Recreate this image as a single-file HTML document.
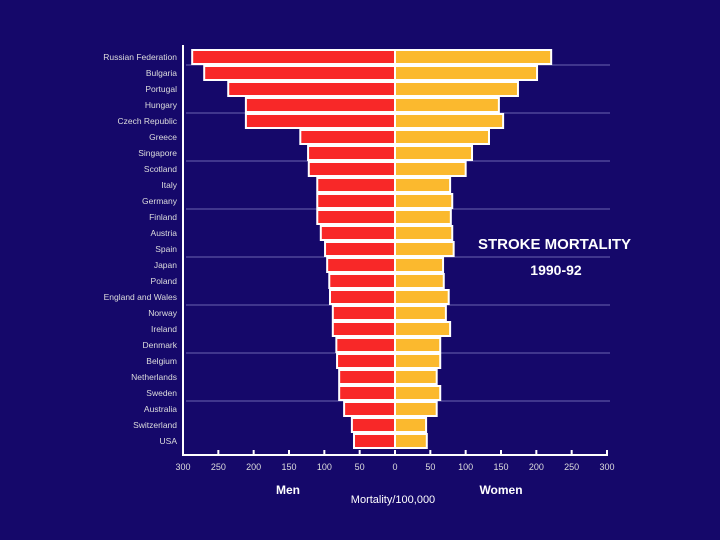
<!DOCTYPE html>
<html><head><meta charset="utf-8"><style>
html,body{margin:0;padding:0;background:#15086a;}
svg{display:block;font-family:"Liberation Sans",sans-serif;}
</style></head><body>
<svg width="720" height="540" viewBox="0 0 720 540">
<rect width="720" height="540" fill="#15086a"/>
<g id="grid"></g><g id="bars"></g><g id="labels"></g><g id="axis"></g>
<text x="478" y="249" fill="#fff" font-size="15" font-weight="bold">STROKE MORTALITY</text>
<text x="556" y="275" fill="#fff" font-size="14" font-weight="bold" text-anchor="middle">1990-92</text>
<text x="288" y="494" fill="#fff" font-size="12" font-weight="bold" text-anchor="middle">Men</text>
<text x="501" y="494" fill="#fff" font-size="12" font-weight="bold" text-anchor="middle">Women</text>
<text x="393" y="503" fill="#fff" font-size="11" text-anchor="middle">Mortality/100,000</text>
</svg>
<script>
const countries=["Russian Federation","Bulgaria","Portugal","Hungary","Czech Republic","Greece","Singapore","Scotland","Italy","Germany","Finland","Austria","Spain","Japan","Poland","England and Wales","Norway","Ireland","Denmark","Belgium","Netherlands","Sweden","Australia","Switzerland","USA"];
const men=[287,270,236,211,211,134,123,122,110,110,110,105,99,96,93,92,88,88,83,82,79,79,72,61,58];
const women=[221,201,174,147,153,133,109,100,78,81,79,81,83,68,69,76,72,78,64,64,59,64,59,44,45];
const ticks=[300,250,200,150,100,50,0,50,100,150,200,250,300];
const NS="http://www.w3.org/2000/svg";
const x0=395,k=212/300;
const xm=v=>x0-v*k, xw=v=>x0+v*k, yc=i=>57+16*i;
function mk(t,a,p){const e=document.createElementNS(NS,t);for(const n in a)e.setAttribute(n,a[n]);p.appendChild(e);return e;}
const G=document.getElementById('grid'),B=document.getElementById('bars'),L=document.getElementById('labels'),A=document.getElementById('axis');
for(let i=1;i<countries.length;i+=3){
 const l=mk('line',{x1:186,x2:610,y1:yc(i)-8,y2:yc(i)-8,stroke:'#6a64b0','stroke-width':1},G);
 
 
}
countries.forEach((c,i)=>{
 const y=yc(i)-7;
 const bm=mk('rect',{x:xm(men[i]),y:y,width:x0-xm(men[i]),height:14,fill:'#f82828',stroke:'#fff','stroke-width':2},B);
 
 
 const bw=mk('rect',{x:x0,y:y,width:xw(women[i])-x0,height:14,fill:'#fbb92e',stroke:'#fff','stroke-width':2},B);
 
 
 const t=mk('text',{x:177,y:yc(i)+3,fill:'#ddd','font-size':8.5,'text-anchor':'end'},L);
 t.textContent=c;
 
 
});
const ya=mk('line',{x1:183,x2:183,y1:45,y2:456,stroke:'#fff','stroke-width':2},A);


const xa=mk('line',{x1:182,x2:608,y1:455,y2:455,stroke:'#fff','stroke-width':2},A);


ticks.forEach((v,i)=>{
 const x=i<6?xm(v):xw(v);
 const tk=mk('line',{x1:x,x2:x,y1:450,y2:455,stroke:'#fff','stroke-width':2},A);
 
 
 const t=mk('text',{x:x,y:470,fill:'#ddd','font-size':9,'text-anchor':'middle'},A);
 t.textContent=v;
 
 
});
</script>
</body></html>
